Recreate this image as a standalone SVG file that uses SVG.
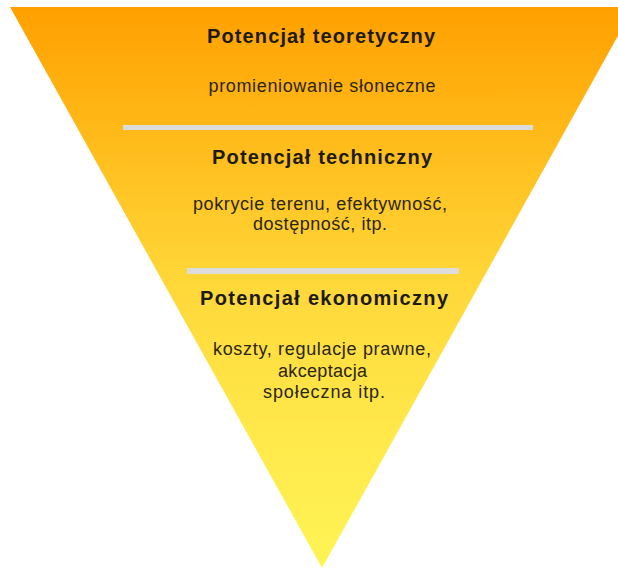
<svg xmlns="http://www.w3.org/2000/svg" width="618" height="571" viewBox="0 0 618 571">
  <defs>
    <linearGradient id="fill" x1="0" y1="7" x2="0" y2="568" gradientUnits="userSpaceOnUse">
      <stop offset="0" stop-color="#FFA000"/>
      <stop offset="0.25" stop-color="#FFBD1C"/>
      <stop offset="0.5" stop-color="#FFD83A"/>
      <stop offset="0.75" stop-color="#FFE84A"/>
      <stop offset="1" stop-color="#FFF455"/>
    </linearGradient>
  </defs>
  <style>
    .title { font-family: "Liberation Sans", Arial, sans-serif; font-size: 20px; font-weight: bold; fill: #1c1a12; text-anchor: middle; }
    .body { font-family: "Liberation Sans", Arial, sans-serif; font-size: 18px; fill: #2a2612; text-anchor: middle; }
    .bar { fill: #DCDCDC; }
  </style>
  <rect x="0" y="0" width="618" height="571" fill="#FFFFFF"/>
  <g id="funnel">
    <polygon points="10,7 634,7 322,568" fill="url(#fill)"/>
  </g>
  <g id="separators">
    <rect class="bar" x="123" y="125" width="410" height="5"/>
    <rect class="bar" x="187" y="268" width="272" height="6"/>
  </g>
  <g id="theoretical">
    <text class="title" x="321" y="43" textLength="228">Potencjał teoretyczny</text>
    <text class="body" x="322" y="92" textLength="227">promieniowanie słoneczne</text>
  </g>
  <g id="technical">
    <text class="title" x="322" y="164" textLength="220">Potencjał techniczny</text>
    <text class="body" x="320" y="210" textLength="254">pokrycie terenu, efektywność,</text>
    <text class="body" x="320" y="230" textLength="134">dostępność, itp.</text>
  </g>
  <g id="economic">
    <text class="title" x="324" y="305" textLength="248">Potencjał ekonomiczny</text>
    <text class="body" x="322" y="355" textLength="218">koszty, regulacje prawne,</text>
    <text class="body" x="322.5" y="377" textLength="89">akceptacja</text>
    <text class="body" x="324" y="398" textLength="122">społeczna itp.</text>
  </g>
</svg>
